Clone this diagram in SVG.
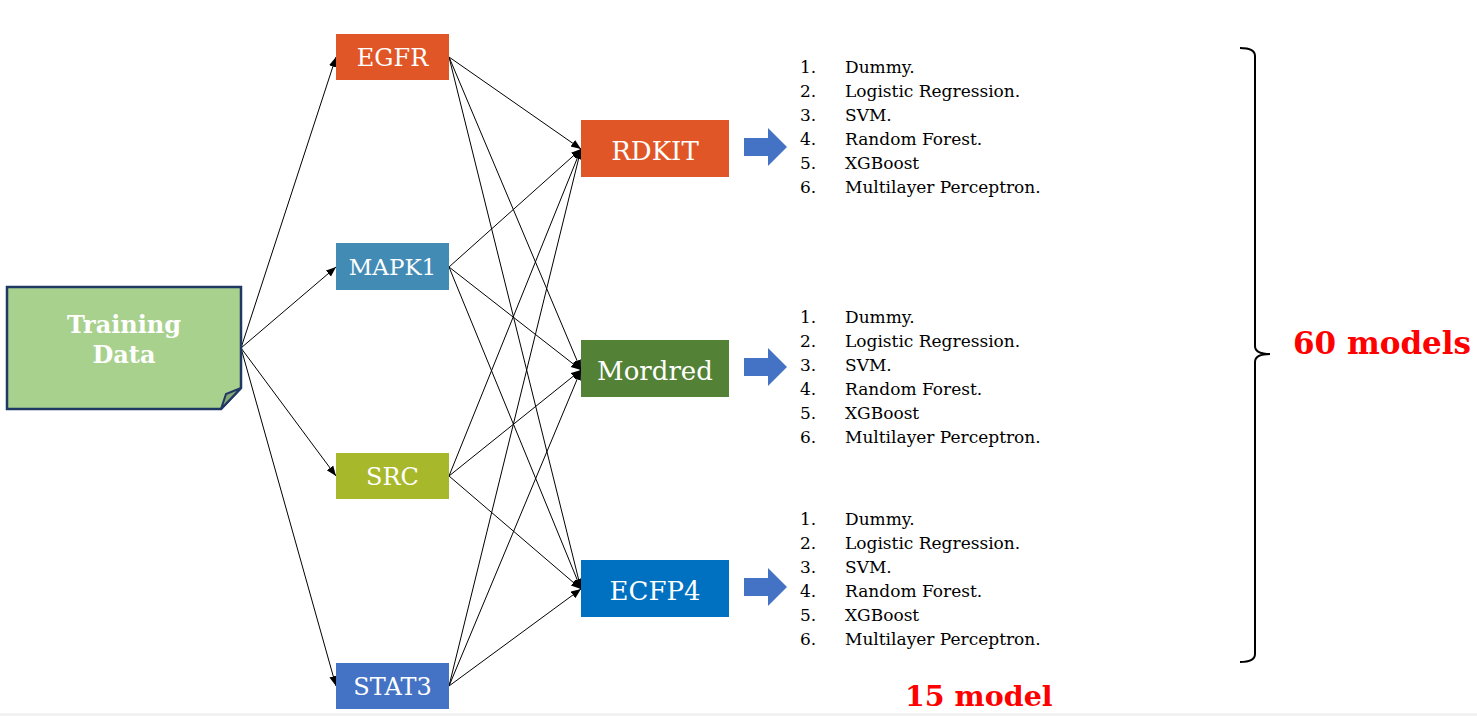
<svg xmlns="http://www.w3.org/2000/svg" width="1477" height="716" viewBox="0 0 1477 716">
<style>
.nt{font-family:"DejaVu Serif","Liberation Serif",serif;fill:#ffffff;text-anchor:middle}
.li{font-family:"DejaVu Serif","Liberation Serif",serif;font-size:17px;fill:#000000}
.red{font-family:"DejaVu Serif","Liberation Serif",serif;font-weight:bold;fill:#ff0000}
.cn{stroke:#000000;stroke-width:1;fill:none;marker-end:url(#ah)}
.blk{fill:#4472c4}
</style>
<defs>
<marker id="ah" markerUnits="userSpaceOnUse" markerWidth="12" markerHeight="10" refX="10" refY="4" orient="auto">
<path d="M0,0 L10,4 L0,8 Z" fill="#000000"/>
</marker>
<path id="barrow" d="M0,-9 L24,-9 L24,-19 L43,0 L24,19 L24,9 L0,9 Z"/>
</defs>
<rect x="0" y="713" width="1477" height="3" fill="#f2f2f2"/>

<g id="connectors">
<line class="cn" x1="241" y1="348" x2="336" y2="57"/>
<line class="cn" x1="241" y1="348" x2="336" y2="267"/>
<line class="cn" x1="241" y1="348" x2="336" y2="476"/>
<line class="cn" x1="241" y1="348" x2="336" y2="686"/>
<line class="cn" x1="449" y1="57" x2="581" y2="149"/>
<line class="cn" x1="449" y1="57" x2="581" y2="370"/>
<line class="cn" x1="449" y1="57" x2="581" y2="589"/>
<line class="cn" x1="449" y1="267" x2="581" y2="149"/>
<line class="cn" x1="449" y1="267" x2="581" y2="370"/>
<line class="cn" x1="449" y1="267" x2="581" y2="589"/>
<line class="cn" x1="449" y1="476" x2="581" y2="149"/>
<line class="cn" x1="449" y1="476" x2="581" y2="370"/>
<line class="cn" x1="449" y1="476" x2="581" y2="589"/>
<line class="cn" x1="449" y1="686" x2="581" y2="149"/>
<line class="cn" x1="449" y1="686" x2="581" y2="370"/>
<line class="cn" x1="449" y1="686" x2="581" y2="589"/>
</g>

<g id="training-data">
<polygon points="7,287 241,287 241,388 221,409 7,409" fill="#a9d18e" stroke="#1f3864" stroke-width="2.5"/>
<polygon points="221,409 226,394 241,388" fill="#87a872" stroke="#1f3864" stroke-width="2"/>
<text class="nt" x="124" y="333" font-size="24" font-weight="bold">Training</text>
<text class="nt" x="124" y="363" font-size="24" font-weight="bold">Data</text>
</g>

<g id="egfr"><rect x="336" y="34" width="113" height="46" fill="#e15627"/><text class="nt" x="392.5" y="66" font-size="24">EGFR</text></g>
<g id="mapk1"><rect x="336" y="243" width="113" height="47" fill="#428bb5"/><text class="nt" x="392.5" y="275" font-size="23">MAPK1</text></g>
<g id="src"><rect x="336" y="453" width="113" height="46" fill="#a7b82a"/><text class="nt" x="392.5" y="485" font-size="24">SRC</text></g>
<g id="stat3"><rect x="336" y="663" width="113" height="46" fill="#4472c4"/><text class="nt" x="392.5" y="695" font-size="24">STAT3</text></g>

<g id="rdkit"><rect x="581" y="120" width="148" height="57" fill="#e15627"/><text class="nt" x="655" y="160" font-size="26">RDKIT</text></g>
<g id="mordred"><rect x="581" y="340" width="148" height="57" fill="#538135"/><text class="nt" x="655" y="380" font-size="26">Mordred</text></g>
<g id="ecfp4"><rect x="581" y="560" width="148" height="57" fill="#0070c0"/><text class="nt" x="655" y="600" font-size="26">ECFP4</text></g>

<g id="arrow-rdkit"><use href="#barrow" class="blk" x="744" y="147"/></g>
<g id="arrow-mordred"><use href="#barrow" class="blk" x="744" y="367"/></g>
<g id="arrow-ecfp4"><use href="#barrow" class="blk" x="744" y="587"/></g>

<g id="list-rdkit" class="li">
<text x="800" y="73">1.</text><text x="845" y="73">Dummy.</text>
<text x="800" y="97">2.</text><text x="845" y="97">Logistic Regression.</text>
<text x="800" y="121">3.</text><text x="845" y="121">SVM.</text>
<text x="800" y="145">4.</text><text x="845" y="145">Random Forest.</text>
<text x="800" y="169">5.</text><text x="845" y="169">XGBoost</text>
<text x="800" y="193">6.</text><text x="845" y="193">Multilayer Perceptron.</text>
</g>
<g id="list-mordred" class="li">
<text x="800" y="323">1.</text><text x="845" y="323">Dummy.</text>
<text x="800" y="347">2.</text><text x="845" y="347">Logistic Regression.</text>
<text x="800" y="371">3.</text><text x="845" y="371">SVM.</text>
<text x="800" y="395">4.</text><text x="845" y="395">Random Forest.</text>
<text x="800" y="419">5.</text><text x="845" y="419">XGBoost</text>
<text x="800" y="443">6.</text><text x="845" y="443">Multilayer Perceptron.</text>
</g>
<g id="list-ecfp4" class="li">
<text x="800" y="525">1.</text><text x="845" y="525">Dummy.</text>
<text x="800" y="549">2.</text><text x="845" y="549">Logistic Regression.</text>
<text x="800" y="573">3.</text><text x="845" y="573">SVM.</text>
<text x="800" y="597">4.</text><text x="845" y="597">Random Forest.</text>
<text x="800" y="621">5.</text><text x="845" y="621">XGBoost</text>
<text x="800" y="645">6.</text><text x="845" y="645">Multilayer Perceptron.</text>
</g>

<g id="brace">
<path d="M1240,48 Q1255,48 1255,56 L1255,346 Q1255,354 1270,354 Q1255,354 1255,362 L1255,654 Q1255,662 1240,662" fill="none" stroke="#000000" stroke-width="2"/>
</g>
<g id="label-60"><text class="red" x="1293" y="354" font-size="31">60 models</text></g>
<g id="label-15"><text class="red" x="905" y="706" font-size="28.5">15 model</text></g>
</svg>
